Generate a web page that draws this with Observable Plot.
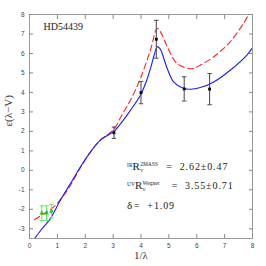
<!DOCTYPE html>
<html><head><meta charset="utf-8">
<script src="https://cdn.jsdelivr.net/npm/d3@7"></script>
<script src="https://cdn.jsdelivr.net/npm/@observablehq/plot@0.6"></script>
<style>body{margin:0;background:#fff}</style>
</head><body><div id="chart"></div>
<script>
// Fitted extinction curves
const blueX = [0.18,0.45,0.75,1.1,1.47,1.83,2.19,2.54,2.85,3.05,3.3,3.62,3.98,4.2,4.34,4.5,4.58,4.68,4.76,4.94,5.17,5.53,5.77,6.13,6.61,7.2,7.8,8.0];
const blueY = [-3.5,-3.0,-2.48,-1.55,-0.68,0.18,0.95,1.55,1.84,2.02,2.45,3.08,3.86,4.6,5.23,6.05,6.35,6.25,6.0,5.23,4.54,4.2,4.16,4.25,4.54,5.14,5.92,6.29];
const redX = [0.18,0.51,0.87,1.23,1.5,1.83,2.19,2.54,2.85,3.05,3.3,3.62,3.98,4.34,4.58,4.68,4.76,4.94,5.29,5.71,5.85,6.13,6.61,7.2,7.68,7.9];
const redY = [-2.54,-2.23,-1.88,-1.28,-0.7,0.15,0.95,1.55,1.88,2.15,2.8,3.6,4.72,6.18,7.29,7.15,6.95,6.35,5.49,5.23,5.22,5.4,5.83,6.6,7.55,8.1];
// UV observations (black) and IR observations (green)
const uvX = [3.03,4.0,4.55,5.55,6.46];
const uvY = [1.93,3.99,6.73,4.18,4.17];
const uvErr = [0.29,0.57,0.97,0.62,0.8];
const irX = [0.44,0.61,0.79];
const irY = [-2.2,-2.2,-2.1];
const irErr = [0.38,0.38,0.35];
// Ticks
const xTicks = [0,1,2,3,4,5,6,7,8];
const yTicks = [-3,-2,-1,0,1,2,3,4,5,6,7,8];
// Text
const starName = "HD54439";
const annPre = ["IR","UV",""];
const annMain = ["R","R","δ"];
const annSub = ["V","V",""];
const annSup = ["2MASS","Wegner",""];
const annVal = ["=  2.62±0.47","=  3.55±0.71","=  +1.09"];
const annX = [3.5,3.5,3.5];
const annValX = [4.91,5.1,3.75];
const annY = [0.2,-0.78,-1.8];
const xLabel = "1/λ";
const yLabel = "ε(λ−V)";

const blue = blueX.map((x,i)=>({x,y:blueY[i]}));
const red = redX.map((x,i)=>({x,y:redY[i]}));
const uv = uvX.map((x,i)=>({x,y:uvY[i],lo:uvY[i]-uvErr[i],hi:uvY[i]+uvErr[i]}));
const ir = irX.map((x,i)=>({x,y:irY[i],lo:irY[i]-irErr[i],hi:irY[i]+irErr[i]}));
const ann = annMain.map((m,i)=>({x:annX[i],vx:annValX[i],y:annY[i],i}));
const annFull = ann.map(d=>annPre[d.i]+annMain[d.i]+annSub[d.i]+annSup[d.i]);

const capSymbol = {draw(ctx,size){ctx.moveTo(-2.2,0);ctx.lineTo(2.2,0);}};
const serif = "'Liberation Serif', 'DejaVu Serif', serif";

const chart = Plot.plot({
  width:266, height:266,
  marginLeft:29, marginRight:14, marginTop:14, marginBottom:28,
  x:{domain:[0,8]},
  y:{domain:[-3.5,8]},
  style:{background:"#fff", fontFamily:"'Liberation Sans', sans-serif", fontSize:"6.5px", color:"#444"},
  marks:[
    Plot.frame({stroke:"#9a9a9a"}),
    Plot.line(red,{x:"x",y:"y",stroke:"#ff2020",strokeWidth:1.1,strokeDasharray:"6,3.5",curve:"catmull-rom",clip:true}),
    Plot.line(blue,{x:"x",y:"y",stroke:"#1a1aff",strokeWidth:1.1,curve:"catmull-rom",clip:true}),
    Plot.ruleX(uv,{x:"x",y1:"lo",y2:"hi",stroke:"#555",strokeWidth:1.1}),
    Plot.dot(uv,{x:"x",y:"lo",symbol:capSymbol,stroke:"#555",strokeWidth:1.1}),
    Plot.dot(uv,{x:"x",y:"hi",symbol:capSymbol,stroke:"#555",strokeWidth:1.1}),
    Plot.dot(uv,{x:"x",y:"y",symbol:"square",r:1.6,fill:"#000"}),
    Plot.ruleX(ir,{x:"x",y1:"lo",y2:"hi",stroke:"#66ee66",strokeWidth:1.1}),
    Plot.dot(ir,{x:"x",y:"lo",symbol:capSymbol,stroke:"#66ee66",strokeWidth:1.1}),
    Plot.dot(ir,{x:"x",y:"hi",symbol:capSymbol,stroke:"#66ee66",strokeWidth:1.1}),
    Plot.dot(ir,{x:"x",y:"y",symbol:"triangle",r:1.8,fill:"#22cc22"}),
    Plot.text([starName],{x:[0.5],y:[7.35],text:d=>d,textAnchor:"start",fontFamily:serif,fontSize:10,fill:"#222",style:"letter-spacing:1px"}),
    Plot.text(ann,{x:"x",y:"y",text:d=>annFull[d.i],textAnchor:"start",fontFamily:serif,fontSize:10,fill:"#222"}),
    Plot.text(ann,{x:"vx",y:"y",text:d=>annVal[d.i],textAnchor:"start",fontFamily:serif,fontSize:10,fill:"#222"}),
    Plot.axisX({ticks:xTicks,tickSize:-4,tickPadding:9,tickFormat:d=>String(d),stroke:"#888"}),
    Plot.axisX({anchor:"top",ticks:xTicks.slice(1,-1),tickSize:-4,tickFormat:()=>"",stroke:"#888"}),
    Plot.axisY({ticks:yTicks,tickSize:-4,tickPadding:9,tickFormat:d=>String(d),stroke:"#888"}),
    Plot.axisY({anchor:"right",ticks:yTicks,tickSize:-4,tickFormat:()=>"",stroke:"#888"}),
    Plot.text([xLabel],{frameAnchor:"bottom",dy:20,text:d=>d,fontFamily:serif,fontSize:11,fill:"#333"}),
    Plot.text([yLabel],{frameAnchor:"left",dx:-21,rotate:-90,text:d=>d,fontFamily:serif,fontSize:11,fill:"#333"})
  ]
});
document.getElementById("chart").appendChild(chart);

// rich text for annotations: prefix superscript, main, subscript + stacked superscript
const ns = "http://www.w3.org/2000/svg";
chart.querySelectorAll('text').forEach(t=>{
  const s = t.textContent;
  const k = annFull.indexOf(s);
  if (k >= 0) {
    const i = ann[k].i;
    while (t.firstChild) t.removeChild(t.firstChild);
    const add = (str,fs,opts)=>{ if(!str) return; const ts=document.createElementNS(ns,"tspan"); ts.textContent=str; ts.style.fontSize=fs+"px"; for(const a in opts) ts.setAttribute(a,opts[a]); t.appendChild(ts); };
    add(annPre[i],5.5,{dy:-2.5});
    add(annMain[i],11,{dy:annPre[i]?2.5:0});
    if (annSub[i]) {
      add(annSub[i],5,{dy:2.5});
      add(annSup[i],5.5,{dx:-3.4,dy:-6.5});
    }
  } else if (annVal.includes(s)) {
    t.style.letterSpacing = "0.9px";
  }
});
</script>
</body></html>
